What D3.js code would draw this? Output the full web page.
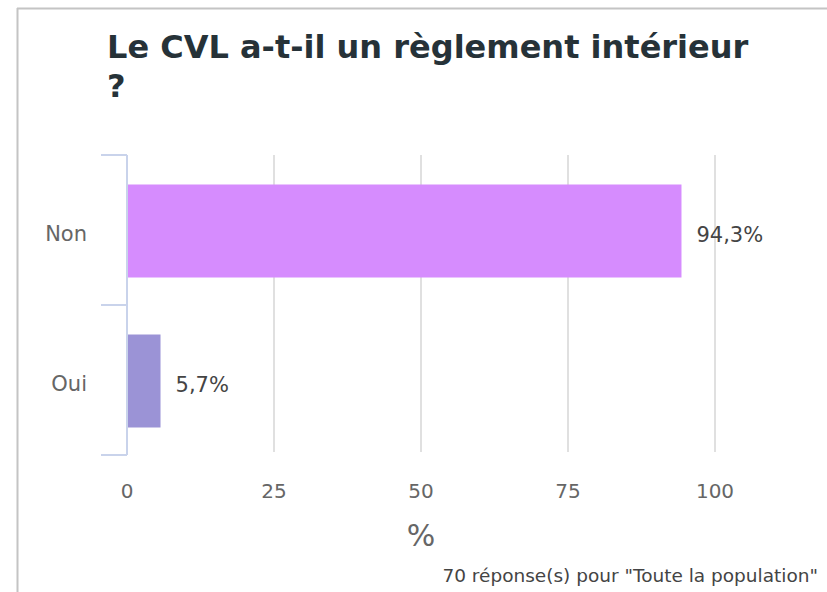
<!DOCTYPE html>
<html>
<head>
<meta charset="utf-8">
<script src="https://cdn.jsdelivr.net/npm/d3@7"></script>
<style>
  body { margin: 0; background: #fff; }
  svg { display: block; font-family: "DejaVu Sans", sans-serif; }
  .title { font-size: 32px; font-weight: bold; fill: #263238; }
  .cat-label { font-size: 21px; fill: #666; }
  .x-tick { font-size: 20px; fill: #666; }
  .val-label { font-size: 21px; fill: #444; }
</style>
</head>
<body>
<svg width="827" height="592"></svg>
<script>
// **** Data ****
var categories = ['Non', 'Oui'];
var values = [94.3, 5.7];
var valueLabels = ['94,3%', '5,7%'];
var barColors = ['#d68cfe', '#9b93d6'];
var xTicks = [0, 25, 50, 75, 100];

var svg = d3.select('svg');

// card border (top and left)
svg.append('line').attr('x1', 17).attr('x2', 827).attr('y1', 8.5).attr('y2', 8.5)
    .attr('stroke', '#c4c4c4').attr('stroke-width', 2);
svg.append('line').attr('x1', 17.5).attr('x2', 17.5).attr('y1', 8).attr('y2', 592)
    .attr('stroke', '#c4c4c4').attr('stroke-width', 2);

// **** Scales ****
var xScale = d3.scaleLinear().domain([0, 100]).range([127, 715]);
var yScale = d3.scaleBand().domain(categories).range([155, 455]).padding(0);

// title
var title = svg.append('text').attr('class', 'title').attr('x', 107).attr('y', 58);
title.append('tspan').text('Le CVL a-t-il un règlement intérieur');
title.append('tspan').attr('x', 107).attr('dy', 39).text('?');

// gridlines
svg.append('g').selectAll('line')
    .data(xTicks.slice(1))
    .enter()
    .append('line')
    .attr('x1', function(d) { return xScale(d); })
    .attr('x2', function(d) { return xScale(d); })
    .attr('y1', 155)
    .attr('y2', 452)
    .attr('stroke', '#e0e0e0')
    .attr('stroke-width', 2);

// bars
var barInset = 0.19;
svg.append('g').selectAll('rect')
    .data(categories)
    .enter()
    .append('rect')
    .attr('x', xScale(0))
    .attr('y', function(d) { return yScale(d) + yScale.bandwidth() * barInset + 1; })
    .attr('width', function(d, i) { return xScale(values[i]) - xScale(0); })
    .attr('height', yScale.bandwidth() * (1 - 2 * barInset))
    .attr('fill', function(d, i) { return barColors[i]; });

// value labels
svg.append('g').selectAll('text')
    .data(categories)
    .enter()
    .append('text')
    .attr('class', 'val-label')
    .attr('x', function(d, i) { return xScale(values[i]) + 15; })
    .attr('y', function(d) { return yScale(d) + yScale.bandwidth() / 2 + 5; })
    .attr('dy', '0.35em')
    .text(function(d, i) { return valueLabels[i]; });

// y axis bracket
var yAxis = svg.append('g');
yAxis.append('line').attr('x1', 127).attr('x2', 127).attr('y1', 155).attr('y2', 455)
    .attr('stroke', '#c9d3eb').attr('stroke-width', 2);
var bounds = categories.map(function(d) { return yScale(d); }).concat([yScale.range()[1]]);
yAxis.selectAll('line.tick')
    .data(bounds)
    .enter()
    .append('line')
    .attr('class', 'tick')
    .attr('x1', 101).attr('x2', 127)
    .attr('y1', function(d) { return d; })
    .attr('y2', function(d) { return d; })
    .attr('stroke', '#c9d3eb').attr('stroke-width', 2);
yAxis.selectAll('text')
    .data(categories)
    .enter()
    .append('text')
    .attr('class', 'cat-label')
    .attr('x', 87)
    .attr('y', function(d) { return yScale(d) + yScale.bandwidth() / 2 + 4; })
    .attr('dy', '0.35em')
    .attr('text-anchor', 'end')
    .text(function(d) { return d; });

// x tick labels
svg.append('g').selectAll('text')
    .data(xTicks)
    .enter()
    .append('text')
    .attr('class', 'x-tick')
    .attr('x', function(d) { return xScale(d); })
    .attr('y', 498)
    .attr('text-anchor', 'middle')
    .text(function(d) { return d; });

// axis title
svg.append('text')
    .attr('x', 421).attr('y', 546)
    .attr('text-anchor', 'middle')
    .attr('font-size', 30)
    .attr('fill', '#666')
    .text('%');

// footer
svg.append('text')
    .attr('x', 818).attr('y', 582)
    .attr('text-anchor', 'end')
    .attr('font-size', 18.5)
    .attr('fill', '#444')
    .text('70 réponse(s) pour "Toute la population"');
</script>
</body>
</html>
